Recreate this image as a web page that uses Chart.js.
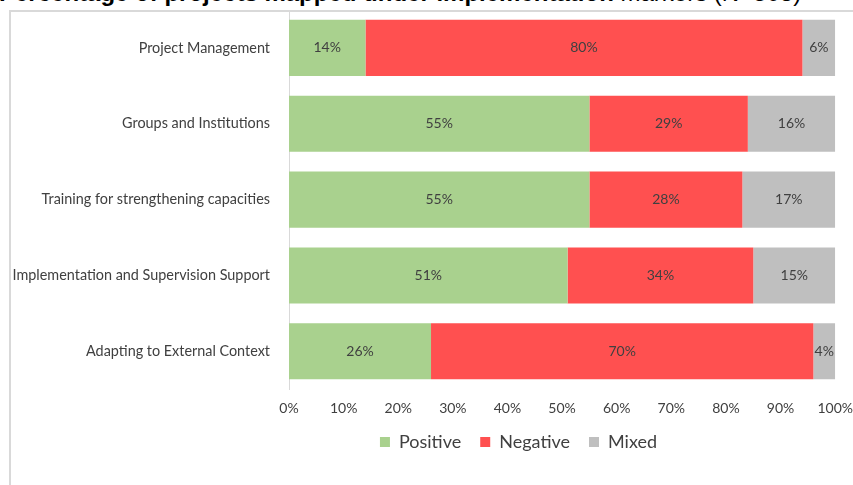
<!DOCTYPE html>
<html>
<head>
<meta charset="utf-8">
<script src="https://cdn.jsdelivr.net/npm/chart.js@4.4.0/dist/chart.umd.min.js"></script>
<style>
  html, body { margin: 0; padding: 0; background: #ffffff; }
  #wrap { position: relative; width: 853px; height: 485px; overflow: hidden; background: #fff; }
  #frame { position: absolute; left: 9px; top: 10px; width: 900px; height: 520px; border: 2px solid #d9d9d9; box-sizing: border-box; }
  #title { position: absolute; left: -1px; top: -21px; white-space: nowrap; font-family: "Liberation Sans", Arial, sans-serif; font-size: 24px; line-height: 27px; color: #000; }
  #title b { font-weight: bold; }
  canvas { position: absolute; left: 0; top: 0; }
</style>
</head>
<body>
<div id="wrap">
  <div id="frame"></div>
  <div id="title"><b>Percentage of projects mapped under implementation</b> markers (N=508)</div>
  <canvas id="c" width="853" height="485"></canvas>
</div>
<script>
const categories = [
  "Project Management",
  "Groups and Institutions",
  "Training for strengthening capacities",
  "Implementation and Supervision Support",
  "Adapting to External Context"
];
const positive = [14, 55, 55, 51, 26];
const negative = [80, 29, 28, 34, 70];
const mixed = [6, 16, 17, 15, 4];
const xTicks = [0, 10, 20, 30, 40, 50, 60, 70, 80, 90, 100];

const FONT = "Lato, 'Open Sans', sans-serif";

const valueLabels = {
  id: 'valueLabels',
  afterDatasetsDraw(chart) {
    const ctx = chart.ctx;
    ctx.save();
    ctx.font = "14px " + FONT;
    ctx.fillStyle = "#404040";
    ctx.textAlign = "center";
    ctx.textBaseline = "middle";
    chart.data.datasets.forEach((ds, di) => {
      const meta = chart.getDatasetMeta(di);
      meta.data.forEach((el, i) => {
        const p = el.getCenterPoint();
        ctx.fillText(ds.data[i] + "%", p.x, p.y);
      });
    });
    ctx.restore();
  }
};

const shiftLegend = {
  id: 'shiftLegend',
  afterLayout(chart) {
    const lg = chart.legend;
    if (!lg) return;
    const dx = 95;
    lg.left += dx; lg.right += dx;
    const dy = -3;
    lg.top += dy; lg.bottom += dy;
  }
};

new Chart(document.getElementById('c'), {
  type: 'bar',
  data: {
    labels: categories,
    datasets: [
      { label: 'Positive', data: positive, backgroundColor: '#A9D18E', barPercentage: 0.74, categoryPercentage: 1.0 },
      { label: 'Negative', data: negative, backgroundColor: '#FF5050', barPercentage: 0.74, categoryPercentage: 1.0 },
      { label: 'Mixed', data: mixed, backgroundColor: '#BFBFBF', barPercentage: 0.74, categoryPercentage: 1.0 }
    ]
  },
  options: {
    indexAxis: 'y',
    responsive: false,
    animation: false,
    layout: { padding: { left: 11, right: 17, top: 10, bottom: 21 } },
    plugins: {
      legend: {
        position: 'bottom',
        labels: {
          boxWidth: 10, boxHeight: 10, padding: 19,
          color: '#404040',
          font: { family: FONT, size: 18 }
        }
      },
      tooltip: { enabled: false }
    },
    scales: {
      x: {
        stacked: true,
        min: 0, max: 100,
        afterBuildTicks(scale) { scale.ticks = xTicks.map(v => ({ value: v })); },
        ticks: {
          callback: v => v + '%',
          color: '#404040',
          font: { family: FONT, size: 14 },
          padding: 0,
          maxRotation: 0
        },
        grid: { display: false, drawTicks: true, tickLength: 11 },
        border: { display: false }
      },
      y: {
        stacked: true,
        afterFit(scale) { scale.width = 278; },
        ticks: {
          color: '#404040',
          font: { family: FONT, size: 14.4 },
          padding: 0
        },
        grid: { display: false, drawTicks: true, tickLength: 19 },
        border: { display: true, color: '#d9d9d9', width: 1 }
      }
    }
  },
  plugins: [valueLabels, shiftLegend]
});
</script>
</body>
</html>
